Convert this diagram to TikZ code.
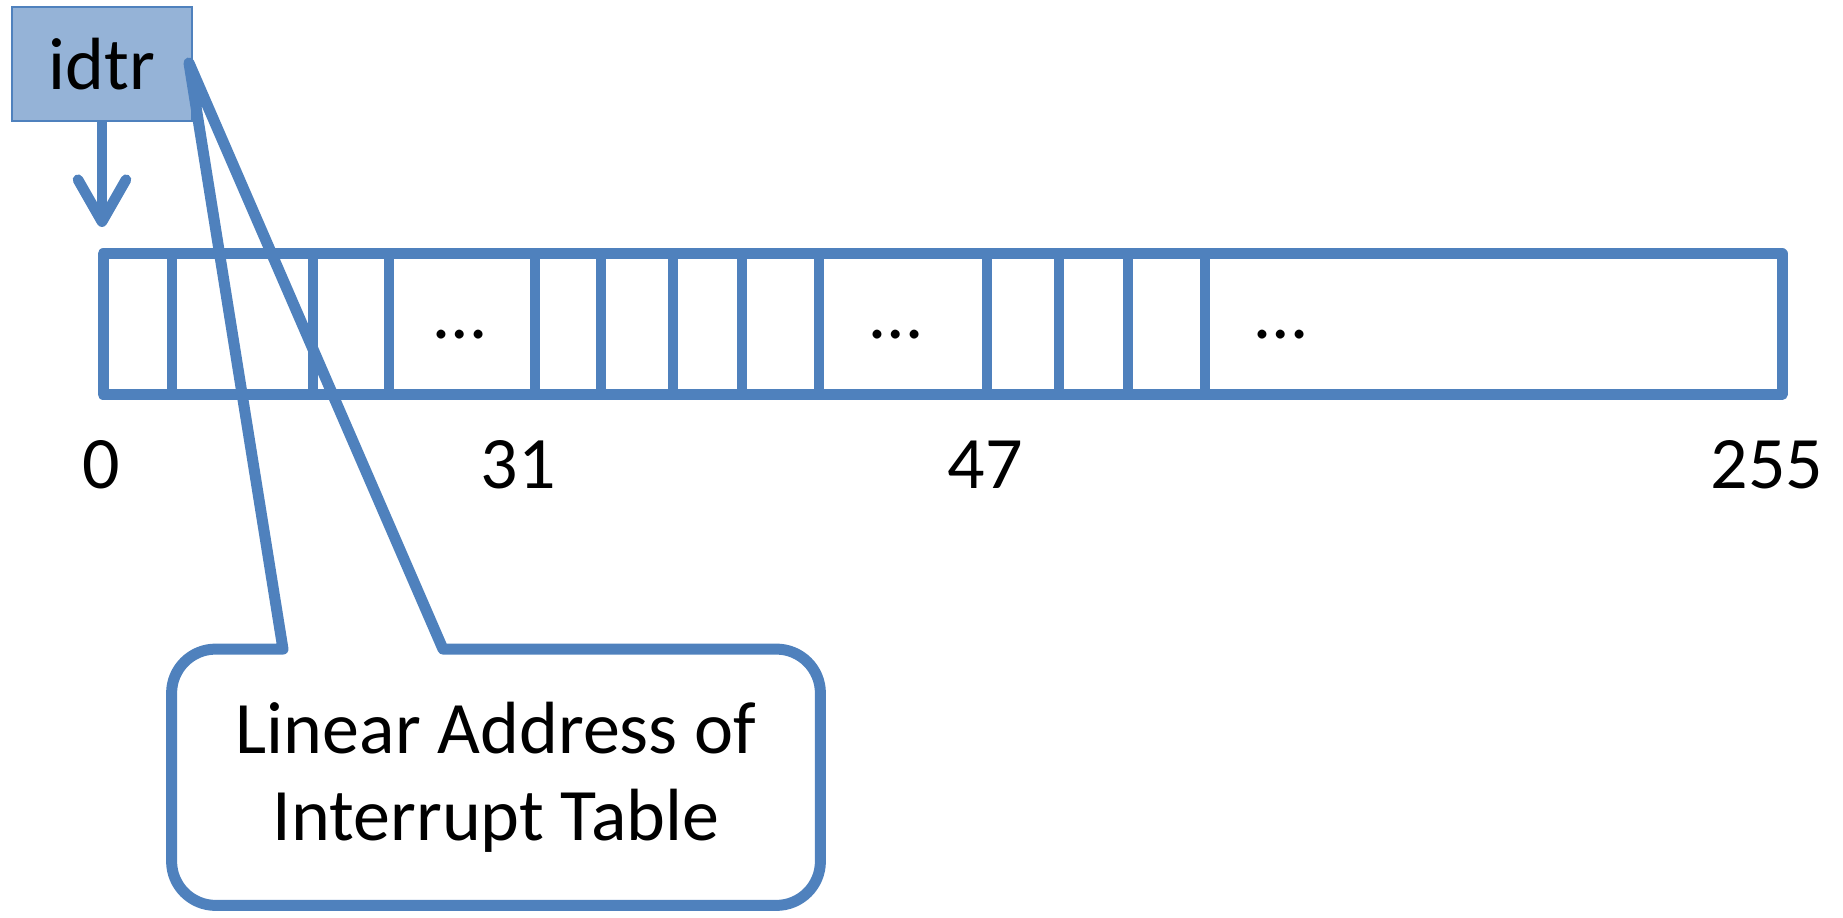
\documentclass[tikz,border=0pt]{standalone}
\usepackage{fontspec}
\setmainfont{Carlito}
\usepackage{tikz}
\usetikzlibrary{positioning}
\usetikzlibrary{arrows.meta}
\definecolor{idtblue}{HTML}{4F81BD}
\definecolor{regblue}{HTML}{95B3D7}

\begin{document}
\begin{tikzpicture}[x=0.5pt, y=0.5pt, font=\fontsize{37}{43.5}\selectfont,
    reg/.style={draw=idtblue, line width=1pt, fill=regblue, minimum width=90pt, minimum height=57pt, inner sep=0pt},
    table/.style={draw=idtblue, line width=5.5pt, line join=round, minimum width=839.5pt, minimum height=70.25pt, inner sep=0pt},
    divider/.style={draw=idtblue, line width=5pt},
    callout/.style={draw=idtblue, line width=5.5pt, line join=round},
    note/.style={minimum width=324pt, minimum height=127.75pt, inner sep=0pt, align=center}]
    \useasboundingbox (0,0) rectangle (1843,917);

    \node[reg] (idtr) at (102,853) {idtr};
    \coordinate (entry) at (102,690);
    \draw[idtblue, line width=5.3pt, -{Straight Barb[length=21pt,width=24pt,round]}] (idtr.south) -- (entry);

    \node[table] (tab) at (942.5,592.75) {};
    \foreach \x in {172,313,389,535,601,673,742,819,987,1059,1128,1205}
      \draw[divider] (\x,0 |- tab.north) -- (\x,0 |- tab.south);

    \node[anchor=base] (dots1) at (460,578) {…};
    \node[anchor=base] (dots2) at (896,578) {…};
    \node[anchor=base] (dots3) at (1281,578) {…};

    \node[anchor=base] (l0) at (101,428) {0};
    \node[anchor=base] (l31) at (518,428) {31};
    \node[anchor=base] (l47) at (985,428) {47};
    \node[anchor=base] (l255) at (1767,428) {255};

    \node[note] (note) at (496,139.75) {Linear Address of\\Interrupt Table};
    \coordinate (lb) at (283,0);
    \coordinate (rb) at (443,0);
    \draw[callout] (note.north -| rb) [rounded corners=22pt] -- (note.north east) -- (note.south east)
      -- (note.south west) -- (note.north west) [sharp corners] -- (note.north -| lb)
      -- ([xshift=-2pt,yshift=0.5pt]idtr.east) -- cycle;
  \end{tikzpicture}
\end{document}
